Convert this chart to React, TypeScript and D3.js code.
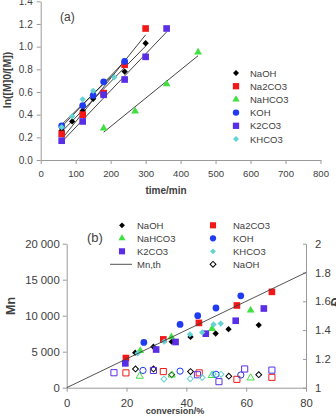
import React, { useEffect, useRef } from "react";
import * as d3 from "d3";

// (a) first-order kinetics: [time/min, ln([M]0/[M])]
const kinNaOH = [[60, 0.26], [90, 0.34], [120, 0.435], [150, 0.54], [240, 0.78], [300, 1.03]];
const kinNa2CO3 = [[60, 0.23], [120, 0.4], [180, 0.59], [240, 0.84], [300, 1.16]];
const kinNaHCO3 = [[180, 0.28], [270, 0.43], [360, 0.67], [450, 0.95]];
const kinKOH = [[60, 0.3], [120, 0.48], [150, 0.57], [180, 0.69], [240, 0.87]];
const kinK2CO3 = [[60, 0.17], [120, 0.34], [180, 0.575], [240, 0.71], [300, 0.91], [360, 1.16]];
const kinKHCO3 = [[60, 0.29], [90, 0.385], [120, 0.535], [150, 0.61], [210, 0.73]];

// (b) molar mass vs conversion: [conversion/%, Mn]
const mnNaOH = [[22.9, 4860], [29, 5690], [35.1, 6390], [41.4, 7050], [49.8, 7530], [54.1, 8130], [64.2, 8700]];
const mnNa2CO3 = [[19.8, 4120], [32.3, 6710], [44.2, 9000], [56.9, 11420], [68.6, 13310]];
const mnNaHCO3 = [[24.6, 5140], [35, 7040], [48.6, 8200], [61.5, 10740]];
const mnKOH = [[25.8, 6280], [37.9, 8780], [43.8, 10000], [49.9, 11070], [58.2, 12760]];
const mnK2CO3 = [[19.6, 3380], [29.9, 5300], [36.4, 6350], [46.5, 7500], [56.5, 9300], [65.9, 11000]];
const mnKHCO3 = [[23.7, 4770], [32.6, 6400], [41.2, 7400], [45.3, 7680], [49.1, 8780], [51.5, 8900]];

// (b) dispersity vs conversion: [conversion/%, Đ]
const dNaOH = [[23, 1.13], [29, 1.13], [35.1, 1.09], [41.4, 1.112], [54.2, 1.08], [64.2, 1.09]];
const dNa2CO3 = [[19.8, 1.103], [32.3, 1.112], [44.3, 1.103], [56.9, 1.058], [68.6, 1.072]];
const dNaHCO3 = [[24.4, 1.08], [35.1, 1.088], [48.5, 1.085], [61.5, 1.068]];
const dKOH = [[25.5, 1.12], [37.9, 1.115], [49.9, 1.093], [58.2, 1.088]];
const dK2CO3 = [[15.8, 1.104], [29, 1.12], [43.7, 1.09], [50.9, 1.042], [59.5, 1.13], [68.6, 1.122]];
const dKHCO3 = [[32.5, 1.06], [41.3, 1.063], [45.3, 1.07], [49, 1.095], [51.6, 1.093]];

// theoretical Mn at 0 and 80 % conversion
const mnThConv = [0, 80];
const mnThValues = [0, 16000];

const timeTicks = [0, 100, 200, 300, 400, 500, 600, 700, 800];
const lnTicks = [0, 0.2, 0.4, 0.6, 0.8, 1.0, 1.2, 1.4];
const convTicks = [0, 20, 40, 60, 80];
const mnTicks = [0, 5000, 10000, 15000, 20000];
const dTicks = [1, 1.2, 1.4, 1.6, 1.8, 2];

const FONT = "'Liberation Sans', Arial, sans-serif";
const TEXT = "#404040";
const AXIS = "#9a9a9a";

const bases = [
  { name: "NaOH", color: "#000000", shape: "diamond", kin: kinNaOH, mn: mnNaOH, d: dNaOH },
  { name: "Na2CO3", color: "#f21818", shape: "square", kin: kinNa2CO3, mn: mnNa2CO3, d: dNa2CO3 },
  { name: "NaHCO3", color: "#3fe03f", shape: "triangle", kin: kinNaHCO3, mn: mnNaHCO3, d: dNaHCO3 },
  { name: "KOH", color: "#1f3cf0", shape: "circle", kin: kinKOH, mn: mnKOH, d: dKOH },
  { name: "K2CO3", color: "#5a2ee6", shape: "square", kin: kinK2CO3, mn: mnK2CO3, d: dK2CO3 },
  { name: "KHCO3", color: "#62d2d2", shape: "diamond", kin: kinKHCO3, mn: mnKHCO3, d: dKHCO3 },
];

const sizes: Record<string, number> = { square: 44, circle: 36, diamond: 20, triangle: 26 };

function Marker({ x, y, shape, color, open = false, scale = 1 }) {
  const type =
    shape === "circle" ? d3.symbolCircle : shape === "triangle" ? d3.symbolTriangle : d3.symbolSquare;
  const size = sizes[shape] * scale * (open ? 0.85 : 1);
  const d = d3.symbol(type, size)();
  const rot = shape === "diamond" ? " rotate(45)" : "";
  return (
    <path
      d={d}
      transform={`translate(${x},${y})${rot}`}
      fill={open ? "none" : color}
      stroke={open ? color : "none"}
      strokeWidth={open ? 1 : 0}
    />
  );
}

function Axis({ axis, transform, fontSize }) {
  const ref = useRef<SVGGElement>(null);
  useEffect(() => {
    const g = d3.select(ref.current);
    g.call(axis);
    g.attr("font-family", FONT).attr("font-size", fontSize);
    g.selectAll("path, line").attr("stroke", AXIS);
    g.selectAll("text").attr("fill", TEXT);
  });
  return <g ref={ref} transform={transform} />;
}

// least-squares trend line over each series' time range
function trend(pts: number[][]) {
  const mx = d3.mean(pts, (p) => p[0]);
  const my = d3.mean(pts, (p) => p[1]);
  const sxy = d3.sum(pts, (p) => (p[0] - mx) * (p[1] - my));
  const sxx = d3.sum(pts, (p) => (p[0] - mx) ** 2);
  const k = sxy / sxx;
  const [x0, x1] = d3.extent(pts, (p) => p[0]);
  return [[x0, my + k * (x0 - mx)], [x1, my + k * (x1 - mx)]];
}

export default function App() {
  const xA = d3.scaleLinear().domain([0, 800]).range([40.7, 320.5]);
  const yA = d3.scaleLinear().domain([0, 1.4]).range([160, 1.3]);

  const xB = d3.scaleLinear().domain([0, 80]).range([66.7, 306]);
  const yMn = d3.scaleLinear().domain([0, 20000]).range([387.7, 243.7]);
  const yD = d3.scaleLinear().domain([1, 2]).range([387.7, 243.7]);

  const spaced = d3.formatLocale({ decimal: ".", thousands: " ", grouping: [3], currency: ["", ""] }).format(",");

  const line = d3.line();

  const legendA = bases.map((b, i) => ({ ...b, y: 73 + i * 13.2 }));
  const legendB = [
    { ...bases[0], col: 0, row: 0 },
    { ...bases[1], col: 1, row: 0 },
    { ...bases[2], col: 0, row: 1 },
    { ...bases[3], col: 1, row: 1 },
    { ...bases[4], col: 0, row: 2 },
    { ...bases[5], col: 1, row: 2 },
  ];
  const legRowY = (r: number) => 225.3 + r * 13;

  return (
    <svg
      width={336}
      height={416}
      style={{ position: "absolute", left: 0, top: 0, background: "#fff" }}
      fontFamily={FONT}
    >
      {/* panel (a) */}
      <Axis
        axis={d3.axisLeft(yA).tickValues(lnTicks).tickFormat(d3.format(".1f")).tickSizeInner(4).tickSizeOuter(0).tickPadding(4)}
        transform={`translate(${xA(0)},0)`}
        fontSize={10}
      />
      <Axis
        axis={d3.axisBottom(xA).tickValues(timeTicks).tickSizeInner(4).tickSizeOuter(0).tickPadding(6)}
        transform={`translate(0,${yA(0)})`}
        fontSize={9.6}
      />
      <text x={166} y={194} textAnchor="middle" fontSize={10} fontWeight="bold" fill={TEXT}>
        time/min
      </text>
      <text
        transform={`translate(11,80) rotate(-90)`}
        textAnchor="middle"
        fontSize={10.5}
        fontWeight="bold"
        fill={TEXT}
      >
        ln([M]0/[M])
      </text>
      <text x={60} y={21} fontSize={12} fill={TEXT}>
        (a)
      </text>

      {bases.map((b) => (
        <path
          key={"t" + b.name}
          d={line(trend(b.kin).map((p) => [xA(p[0]), yA(p[1])]))}
          stroke="#111"
          strokeWidth={0.8}
          fill="none"
        />
      ))}
      {bases.map((b) =>
        b.kin.map((p, i) => (
          <Marker key={b.name + "k" + i} x={xA(p[0])} y={yA(p[1])} shape={b.shape} color={b.color} />
        ))
      )}

      {legendA.map((b) => (
        <g key={"la" + b.name}>
          <Marker x={236} y={b.y} shape={b.shape} color={b.color} scale={0.9} />
          <text x={250} y={b.y + 3.5} fontSize={9.5} fill={TEXT}>
            {b.name}
          </text>
        </g>
      ))}

      {/* panel (b) */}
      <Axis
        axis={d3.axisLeft(yMn).tickValues(mnTicks).tickFormat(spaced).tickSizeInner(4).tickSizeOuter(0).tickPadding(3)}
        transform={`translate(${xB(0)},0)`}
        fontSize={11.3}
      />
      <Axis
        axis={d3.axisBottom(xB).tickValues(convTicks).tickSizeInner(4).tickSizeOuter(0).tickPadding(7)}
        transform={`translate(0,${yMn(0)})`}
        fontSize={11.3}
      />
      <Axis
        axis={d3.axisRight(yD).tickValues(dTicks).tickFormat(d3.format("")).tickSizeInner(-3).tickSizeOuter(0).tickPadding(9)}
        transform={`translate(${xB(80)},0)`}
        fontSize={11.3}
      />
      <text x={175} y={414} textAnchor="middle" fontSize={9} fontWeight="bold" fill={TEXT}>
        conversion/%
      </text>
      <text transform={`translate(15,306) rotate(-90)`} textAnchor="middle" fontSize={12.5} fontWeight="bold" fill={TEXT}>
        Mn
      </text>
      <text transform={`translate(340,302) rotate(-90)`} textAnchor="middle" fontSize={12} fontWeight="bold" fill={TEXT}>
        Đ
      </text>
      <text x={87} y={242} fontSize={13} fill={TEXT}>
        (b)
      </text>

      {bases.map((b) =>
        b.d.map((p, i) => (
          <Marker key={b.name + "d" + i} x={xB(p[0])} y={yD(p[1])} shape={b.shape} color={b.color} open />
        ))
      )}
      {bases.map((b) =>
        b.mn.map((p, i) => (
          <Marker key={b.name + "m" + i} x={xB(p[0])} y={yMn(p[1])} shape={b.shape} color={b.color} />
        ))
      )}
      <path
        d={line(mnThConv.map((c, i) => [xB(c), yMn(mnThValues[i])]))}
        stroke="#404040"
        strokeWidth={0.9}
        fill="none"
      />

      {legendB.map((b) => {
        const mx = b.col === 0 ? 122 : 213;
        const tx = b.col === 0 ? 137 : 233;
        const y = legRowY(b.row);
        return (
          <g key={"lb" + b.name}>
            <Marker x={mx} y={y} shape={b.shape} color={b.color} scale={0.85} />
            <text x={tx} y={y + 3.5} fontSize={9.5} fill={TEXT}>
              {b.name}
            </text>
          </g>
        );
      })}
      <line x1={110} x2={132} y1={legRowY(3)} y2={legRowY(3)} stroke="#404040" strokeWidth={0.9} />
      <text x={137} y={legRowY(3) + 3.5} fontSize={9.5} fill={TEXT}>
        Mn,th
      </text>
      <Marker x={213} y={legRowY(3)} shape="diamond" color="#000" open />
      <text x={233} y={legRowY(3) + 3.5} fontSize={9.5} fill={TEXT}>
        NaOH
      </text>
    </svg>
  );
}
